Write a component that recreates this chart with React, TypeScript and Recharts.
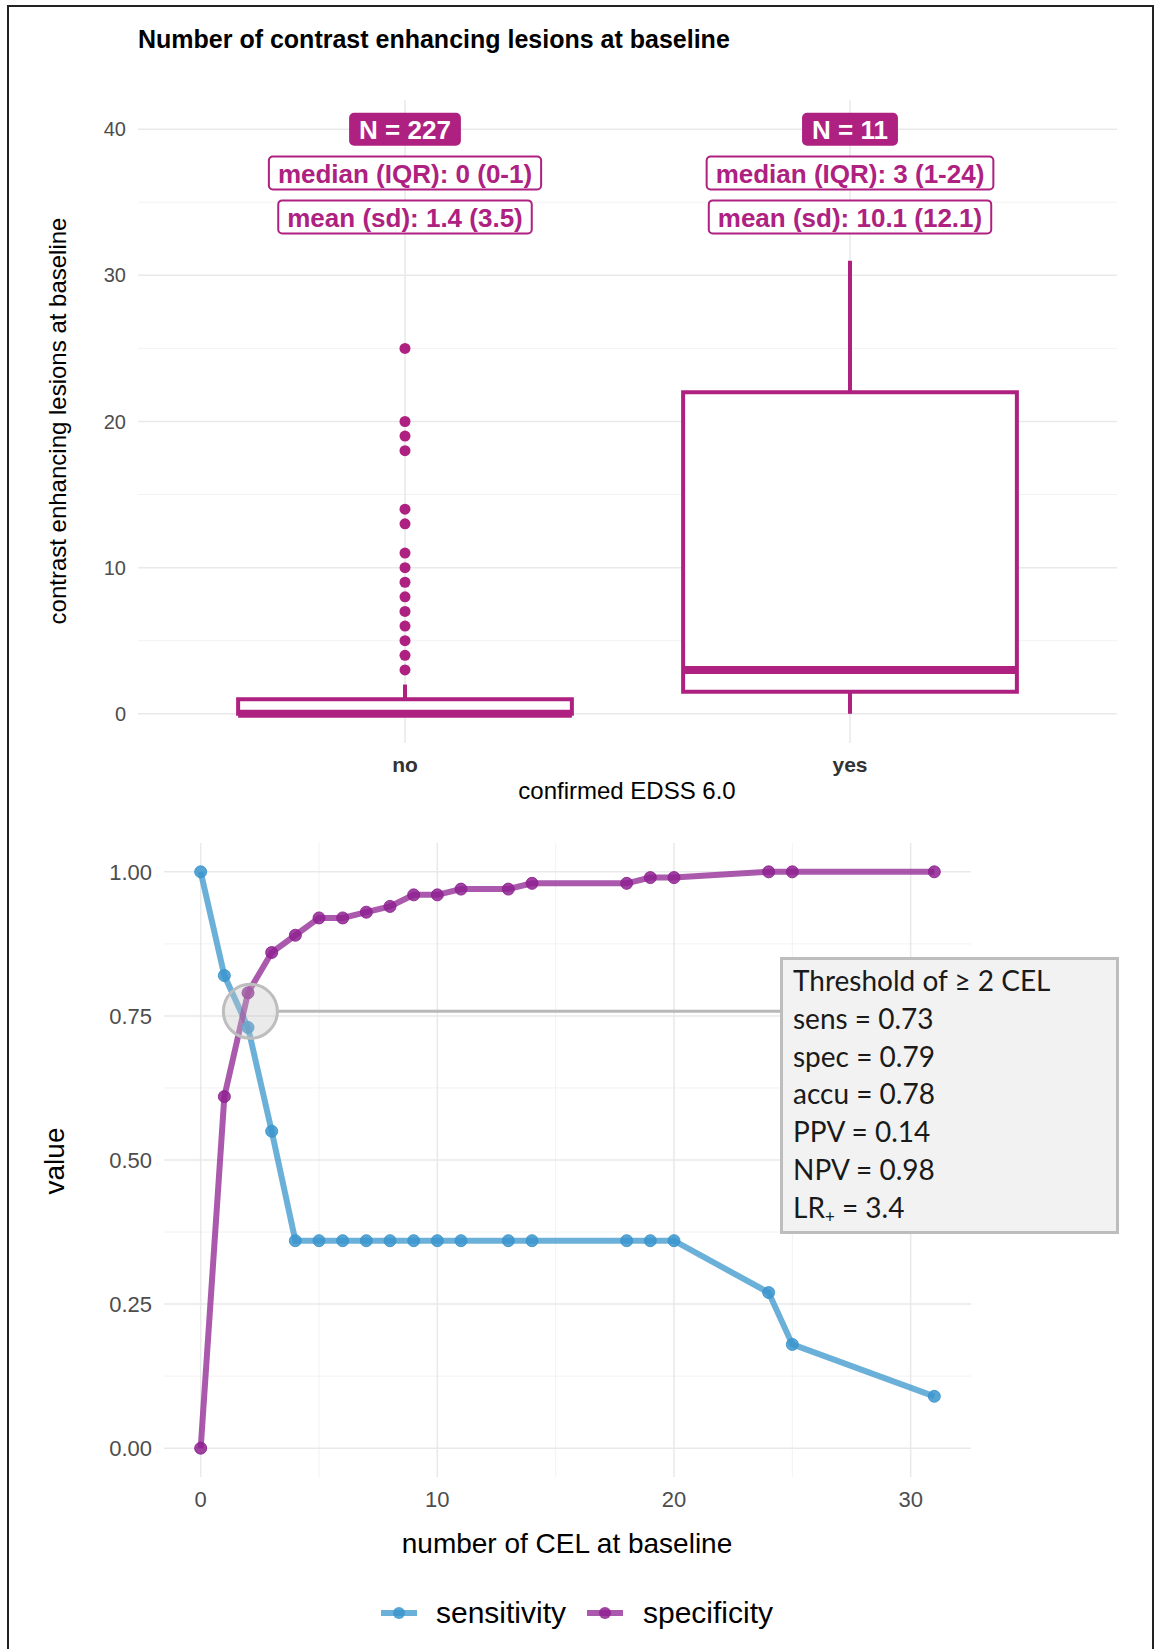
import {
  ComposedChart, LineChart, Line, Scatter, XAxis, YAxis, CartesianGrid,
  ReferenceArea, ReferenceLine, ReferenceDot,
} from 'recharts'

const MAGENTA = '#ae2181'
const SENS = '#3a95cc'
const SPEC = '#8e2190'
const GRID = '#e9e9e9'
const GRID_MINOR = '#f2f2f2'
const FONT = '"Liberation Sans", Arial, sans-serif'

// top panel: CEL at baseline by confirmed EDSS 6.0
const groups = ['no', 'yes']
const groupN = [227, 11]
const medianIqr = ['0 (0-1)', '3 (1-24)']
const meanSd = ['1.4 (3.5)', '10.1 (12.1)']
const whiskerLow = [0, 0]
const q1 = [0, 1.5]
const median = [0, 3]
const q3 = [1, 22]
const whiskerHigh = [2, 31]
const outliersNo = [3, 4, 5, 6, 7, 8, 9, 10, 11, 13, 14, 18, 19, 20, 25]
const celTicks = [0, 10, 20, 30, 40]
const celMinor = [5, 15, 25, 35]
const labelRowsAt = [40, 37, 34]

// bottom panel: diagnostic values per CEL threshold
const thresholds = [0, 1, 2, 3, 4, 5, 6, 7, 8, 9, 10, 11, 13, 14, 18, 19, 20, 24, 25, 31]
const sensitivity = [1.0, 0.82, 0.73, 0.55, 0.36, 0.36, 0.36, 0.36, 0.36, 0.36, 0.36, 0.36, 0.36, 0.36, 0.36, 0.36, 0.36, 0.27, 0.18, 0.09]
const specificity = [0, 0.61, 0.79, 0.86, 0.89, 0.92, 0.92, 0.93, 0.94, 0.96, 0.96, 0.97, 0.97, 0.98, 0.98, 0.99, 0.99, 1.0, 1.0, 1.0]
const xTicks = [0, 10, 20, 30]
const xMinor = [5, 15, 25]
const yTicks = [0, 0.25, 0.5, 0.75, 1]
const yMinor = [0.125, 0.375, 0.625, 0.875]
const highlight = { x: 2.1, y: 0.758 }
const thresholdLines = ['sens = 0.73', 'spec = 0.79', 'accu = 0.78', 'PPV = 0.14', 'NPV = 0.98']

const BOX_W = 0.75

const curveData = thresholds.map((x, i) => ({ x, sens: sensitivity[i], spec: specificity[i] }))
const outlierData = outliersNo.map(v => ({ x: 1, y: v }))
const labelData = groups.flatMap((_, i) => [
  { x: i + 1, y: labelRowsAt[0], text: `N = ${groupN[i]}`, filled: true },
  { x: i + 1, y: labelRowsAt[1], text: `median (IQR): ${medianIqr[i]}`, filled: false },
  { x: i + 1, y: labelRowsAt[2], text: `mean (sd): ${meanSd[i]}`, filled: false },
])

let ctx: CanvasRenderingContext2D | null = null
function textWidth(text: string, font: string) {
  if (!ctx) ctx = document.createElement('canvas').getContext('2d')
  if (!ctx) return text.length * 14
  ctx.font = font
  return ctx.measureText(text).width
}

function StatLabel(props: any) {
  const { cx, cy, payload } = props
  const w = textWidth(payload.text, `bold 26px ${FONT}`) + 18
  const h = payload.filled ? 31 : 33
  return (
    <g>
      <rect x={cx - w / 2} y={cy - h / 2} width={w} height={h} rx={4}
        fill={payload.filled ? MAGENTA : '#fff'} stroke={MAGENTA} strokeWidth={2} />
      <text x={cx} y={cy + 1} textAnchor="middle" dominantBaseline="central"
        fontFamily={FONT} fontWeight="bold" fontSize={26}
        fill={payload.filled ? '#fff' : MAGENTA}>{payload.text}</text>
    </g>
  )
}

const Dot = (p: any) => <circle cx={p.cx} cy={p.cy} r={5.5} fill={MAGENTA} />

function LegendKey({ color }: { color: string }) {
  return (
    <svg width={38} height={16} style={{ display: 'block' }}>
      <line x1={1} y1={8} x2={37} y2={8} stroke={color} strokeOpacity={0.75} strokeWidth={6} />
      <circle cx={19} cy={8} r={6} fill={color} fillOpacity={0.85} />
    </svg>
  )
}

const abs = (left: number, top: number, extra: any = {}) => ({
  position: 'absolute' as const, left, top, lineHeight: 1, whiteSpace: 'nowrap' as const, ...extra,
})

export default function App() {
  return (
    <div style={{ position: 'absolute', left: 0, top: 0, width: 1155, height: 1649, overflow: 'hidden', background: '#fff', fontFamily: FONT, color: '#000' }}>
      <div style={{ position: 'absolute', left: 7, top: 5, width: 1143, height: 1700, border: '2px solid #222' }} />

      <div style={abs(138, 27, { fontSize: 25, fontWeight: 'bold' })}>Number of contrast enhancing lesions at baseline</div>

      <div style={{ position: 'absolute', left: 0, top: 0 }}>
        <ComposedChart width={1155} height={789} margin={{ top: 100, right: 38, bottom: 0, left: 0 }}>
          <CartesianGrid stroke={GRID_MINOR} strokeWidth={1} vertical={false} horizontalValues={celMinor} />
          <CartesianGrid stroke={GRID} strokeWidth={1.5} horizontalValues={celTicks} verticalValues={[1, 2]} />
          <XAxis dataKey="x" type="number" domain={[0.4, 2.6]} ticks={[1, 2]} height={46}
            tickFormatter={(v: number) => groups[v - 1]} axisLine={false} tickLine={false} tickSize={0} tickMargin={14}
            tick={{ fontSize: 21, fontWeight: 'bold', fill: '#333', fontFamily: FONT }} />
          <YAxis type="number" domain={[-2, 42]} ticks={celTicks} width={138}
            axisLine={false} tickLine={false} tickSize={0} tickMargin={12}
            tick={{ fontSize: 20, fill: '#4d4d4d', fontFamily: FONT }} />
          {groups.map((g, i) => (
            <ReferenceLine key={`wl-${g}`} segment={[{ x: i + 1, y: whiskerLow[i] }, { x: i + 1, y: q1[i] }]}
              stroke={MAGENTA} strokeWidth={4} />
          ))}
          {groups.map((g, i) => (
            <ReferenceLine key={`wh-${g}`} segment={[{ x: i + 1, y: q3[i] }, { x: i + 1, y: whiskerHigh[i] }]}
              stroke={MAGENTA} strokeWidth={4} />
          ))}
          {groups.map((g, i) => (
            <ReferenceArea key={`box-${g}`} x1={i + 1 - BOX_W / 2} x2={i + 1 + BOX_W / 2} y1={q1[i]} y2={q3[i]}
              fill="#fff" fillOpacity={1} stroke={MAGENTA} strokeWidth={4} />
          ))}
          {groups.map((g, i) => (
            <ReferenceLine key={`med-${g}`} segment={[{ x: i + 1 - BOX_W / 2, y: median[i] }, { x: i + 1 + BOX_W / 2, y: median[i] }]}
              stroke={MAGENTA} strokeWidth={8} />
          ))}
          <Scatter data={outlierData} dataKey="y" shape={Dot} isAnimationActive={false} />
          <Scatter data={labelData} dataKey="y" shape={StatLabel} isAnimationActive={false} />
        </ComposedChart>
      </div>

      <div style={abs(58, 421, { fontSize: 24, transform: 'translate(-50%, -50%) rotate(-90deg)' })}>contrast enhancing lesions at baseline</div>
      <div style={abs(627, 791, { fontSize: 24, transform: 'translate(-50%, -50%)' })}>confirmed EDSS 6.0</div>

      <div style={{ position: 'absolute', left: 0, top: 800 }}>
        <LineChart width={1155} height={849} data={curveData} margin={{ top: 43, right: 184, bottom: 132, left: 0 }}>
          <CartesianGrid stroke={GRID_MINOR} strokeWidth={1} horizontalValues={yMinor} verticalValues={xMinor} />
          <CartesianGrid stroke={GRID} strokeWidth={1.5} horizontalValues={yTicks} verticalValues={xTicks} />
          <XAxis dataKey="x" type="number" domain={[-1.55, 32.55]} ticks={xTicks} height={40}
            axisLine={false} tickLine={false} tickSize={0} tickMargin={14}
            tick={{ fontSize: 22, fill: '#4d4d4d', fontFamily: FONT }} />
          <YAxis type="number" domain={[-0.05, 1.05]} ticks={yTicks} width={164}
            tickFormatter={(v: number) => v.toFixed(2)}
            axisLine={false} tickLine={false} tickSize={0} tickMargin={12}
            tick={{ fontSize: 22, fill: '#4d4d4d', fontFamily: FONT }} />
          <Line type="linear" dataKey="sens" stroke={SENS} strokeOpacity={0.75} strokeWidth={6}
            dot={{ r: 6, fill: SENS, fillOpacity: 0.85, stroke: SENS, strokeOpacity: 0.9, strokeWidth: 1 }}
            activeDot={false} isAnimationActive={false} />
          <Line type="linear" dataKey="spec" stroke={SPEC} strokeOpacity={0.75} strokeWidth={6}
            dot={{ r: 6, fill: SPEC, fillOpacity: 0.85, stroke: SPEC, strokeOpacity: 0.9, strokeWidth: 1 }}
            activeDot={false} isAnimationActive={false} />
          <ReferenceLine segment={[{ x: highlight.x + 1.15, y: highlight.y }, { x: 24.5, y: highlight.y }]}
            stroke="#b8b8b8" strokeWidth={3} />
          <ReferenceDot x={highlight.x} y={highlight.y} r={27} fill="#c4c4c4" fillOpacity={0.35}
            stroke="#bdbdbd" strokeWidth={3} />
        </LineChart>
      </div>

      <div style={{
        position: 'absolute', left: 780, top: 957, width: 339, height: 277, boxSizing: 'border-box',
        background: '#f2f2f2', border: '3px solid #bdbdbd', padding: '2px 0 0 10px',
        fontFamily: 'Lato, "Open Sans", sans-serif', fontSize: 28, lineHeight: '37.8px', color: '#1a1a1a',
      }}>
        <div>Threshold of ≥ 2 CEL</div>
        {thresholdLines.map(t => <div key={t}>{t}</div>)}
        <div>LR<sub style={{ fontSize: 17, verticalAlign: '-5px' }}>+</sub> = 3.4</div>
      </div>

      <div style={abs(55, 1161, { fontSize: 28, transform: 'translate(-50%, -50%) rotate(-90deg)' })}>value</div>
      <div style={abs(567, 1544, { fontSize: 28, transform: 'translate(-50%, -50%)' })}>number of CEL at baseline</div>

      <div style={abs(380, 1605)}><LegendKey color={SENS} /></div>
      <div style={abs(436, 1598, { fontSize: 30 })}>sensitivity</div>
      <div style={abs(586, 1605)}><LegendKey color={SPEC} /></div>
      <div style={abs(643, 1598, { fontSize: 30 })}>specificity</div>
    </div>
  )
}
